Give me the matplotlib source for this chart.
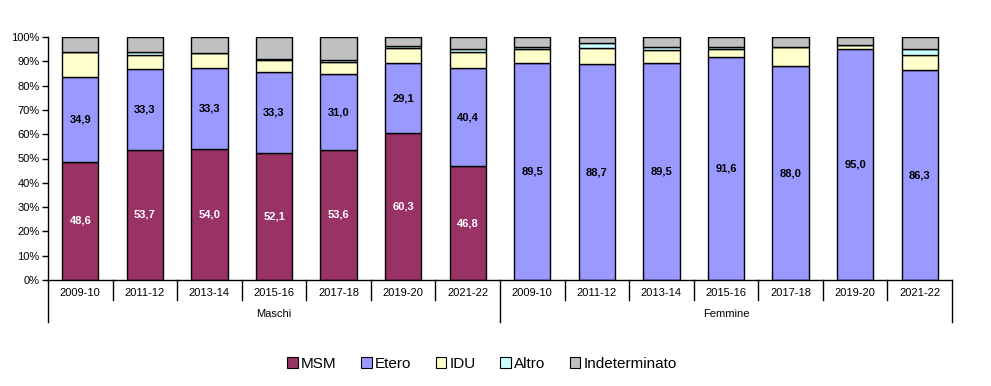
import matplotlib
matplotlib.use("Agg")
import matplotlib.pyplot as plt
import matplotlib.transforms as mtransforms
from matplotlib.patches import Patch
import numpy as np

plt.rcParams['font.family'] = ['Liberation Sans', 'DejaVu Sans']

periods = ["2009-10", "2011-12", "2013-14", "2015-16", "2017-18", "2019-20", "2021-22"]
groups = ["Maschi", "Femmine"]
series_names = ["MSM", "Etero", "IDU", "Altro", "Indeterminato"]
colors = ["#993366", "#9999FF", "#FFFFCC", "#CCFFFF", "#C0C0C0"]

# Maschi then Femmine, same period order
msm   = [48.6, 53.7, 54.0, 52.1, 53.6, 60.3, 46.8,   0.0, 0.0, 0.0, 0.0, 0.0, 0.0, 0.0]
etero = [34.9, 33.3, 33.3, 33.3, 31.0, 29.1, 40.4,  89.5, 88.7, 89.5, 91.6, 88.0, 95.0, 86.3]
idu   = [10.2,  5.5,  6.0,  5.0,  5.0,  5.9,  6.8,   5.4, 6.6, 5.0, 3.3, 7.8, 1.6, 6.2]
altro = [ 0.0,  1.2,  0.0,  0.7,  0.8,  1.0,  0.9,   1.0, 2.1, 1.3, 0.9, 0.0, 0.0, 2.4]
indet = [ 6.3,  6.3,  6.7,  8.9,  9.6,  3.7,  5.1,   4.1, 2.6, 4.2, 4.2, 4.2, 3.4, 5.1]

data = [msm, etero, idu, altro, indet]
n = len(msm)
x = np.arange(n)

fig = plt.figure(figsize=(9.91, 3.86), dpi=100)
ax = fig.add_axes([48/991, 1 - 280/386, 904/991, 243/386])

bottom = np.zeros(n)
for vals, col, name in zip(data, colors, series_names):
    v = np.array(vals)
    ax.bar(x, v, 0.56, bottom=bottom, color=col, edgecolor="black", linewidth=1.0, label=name, zorder=2)
    bottom += v

# Data labels
for i in range(n):
    if msm[i] > 0:
        ax.text(x[i], msm[i] / 2, f"{msm[i]:.1f}".replace(".", ","), ha="center", va="center",
                color="white", fontsize=8, fontweight="bold", zorder=3)
    ax.text(x[i], msm[i] + etero[i] / 2, f"{etero[i]:.1f}".replace(".", ","), ha="center", va="center",
            color="black", fontsize=8, fontweight="bold", zorder=3)

ax.set_xlim(-0.5, n - 0.5)
ax.set_ylim(0, 100)
ax.set_yticks(np.arange(0, 101, 10))
ax.set_yticklabels([f"{t}%" for t in range(0, 101, 10)], fontsize=8)
ax.tick_params(axis="y", direction="out", length=4, width=1, pad=2)
ax.set_xticks([])
for s in ["top", "right"]:
    ax.spines[s].set_visible(False)
ax.spines["left"].set_linewidth(1)
ax.spines["bottom"].set_linewidth(1)

tr = mtransforms.blended_transform_factory(ax.transData, ax.transAxes)
ah = 243.0
# inner separators
for k in range(n - 1):
    b = k + 0.5
    if k == 6:
        continue
    ax.plot([b, b], [0, -20 / ah], transform=tr, color="black", lw=1, clip_on=False)
# group separators
for b in [-0.5, 6.5, n - 0.5]:
    ax.plot([b, b], [0, -42 / ah], transform=tr, color="black", lw=1, clip_on=False)

labels_all = periods + periods
for i, lab in enumerate(labels_all):
    ax.text(x[i], -13 / ah, lab, transform=tr, ha="center", va="center", fontsize=8)
for gi, g in enumerate(groups):
    ax.text(3 + gi * 7, -34 / ah, g, transform=tr, ha="center", va="center", fontsize=8)

handles = [Patch(facecolor=c, edgecolor="black", linewidth=0.8) for c in colors]
fig.legend(handles, series_names, loc="center", bbox_to_anchor=(482 / 991, 1 - 364 / 386), ncol=5,
           frameon=False, fontsize=11, handlelength=0.7, handleheight=0.7, handletextpad=0.2,
           columnspacing=1.6)

fig.savefig("out.png", dpi=100)
